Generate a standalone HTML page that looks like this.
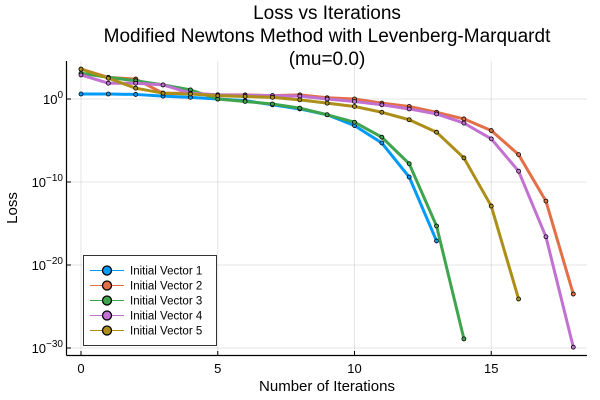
<!DOCTYPE html>
<html><head><meta charset="utf-8"><style>
body{margin:0;background:#fff}
svg{display:block;font-family:"Liberation Sans","DejaVu Sans",sans-serif}
</style></head><body>
<svg id="chart" width="600" height="400" viewBox="0 0 600 400">
<g font-size="19" text-anchor="middle" fill="#000">
<text x="327" y="19">Loss vs Iterations</text>
<text x="327" y="42">Modified Newtons Method with Levenberg-Marquardt</text>
<text x="327" y="65">(mu=0.0)</text>
</g>
<g id="grid"></g>
<g id="series"></g>
<line x1="66.5" y1="61" x2="66.5" y2="355.5" stroke="#000" stroke-width="1.2"/>
<line x1="66.5" y1="355.5" x2="587" y2="355.5" stroke="#000" stroke-width="1.2"/>
<g id="ticks"></g>
<text x="327" y="391" font-size="15" text-anchor="middle">Number of Iterations</text>
<text x="17" y="208" font-size="15" text-anchor="middle" transform="rotate(-90 17 208)">Loss</text>
<g id="legend"></g>
</svg>
<script>
const seriesNames=["Initial Vector 1","Initial Vector 2","Initial Vector 3","Initial Vector 4","Initial Vector 5"];
const seriesColors=["#009AF9","#E26F46","#3EA44E","#C271D2","#AC8E18"];
const s1=[0.6,0.6,0.55,0.35,0.2,0,-0.2,-0.7,-1.2,-1.9,-3.2,-5.3,-9.4,-17.1];
const s2=[3.6,2.6,2.4,0.7,0.7,0.5,0.5,0.4,0.5,0.15,0,-0.5,-0.9,-1.6,-2.4,-3.8,-6.7,-12.3,-23.5];
const s3=[3.1,2.6,2.2,1.7,1.1,0,-0.3,-0.6,-1.1,-1.9,-2.8,-4.6,-7.8,-15.3,-28.9];
const s4=[2.9,1.9,1.9,1.7,0.7,0.5,0.45,0.4,0.35,0,-0.3,-0.7,-1.2,-1.8,-2.9,-4.8,-8.7,-16.6,-29.9];
const s5=[3.6,2.5,1.3,0.7,0.6,0.4,0.3,0.2,-0.1,-0.5,-0.9,-1.6,-2.5,-4,-7.1,-12.9,-24.1];
const xTicks=[0,5,10,15];
const yTicks=[0,-10,-20,-30];
const NS="http://www.w3.org/2000/svg";
function X(v){return 81+v*27.35;}
function Y(l){return 99-l*8.3;}
function mk(t,a,p){const e=document.createElementNS(NS,t);for(const k in a)e.setAttribute(k,a[k]);p.appendChild(e);return e;}
const grid=document.getElementById('grid'),ticks=document.getElementById('ticks');
xTicks.forEach(v=>{
 const g=mk('line',{x1:X(v),x2:X(v),y1:61,y2:355,stroke:'#000','stroke-opacity':0.1},grid);
 
 
 const tk=mk('line',{x1:X(v),x2:X(v),y1:355.5,y2:351},ticks);tk.setAttribute('stroke','#000');
 
 
 const t=mk('text',{x:X(v),y:373,'font-size':13,'text-anchor':'middle'},ticks);t.textContent=v;
 
 
});
yTicks.forEach(v=>{
 const g=mk('line',{x1:67,x2:587,y1:Y(v),y2:Y(v),stroke:'#000','stroke-opacity':0.1},grid);
 
 
 const tk=mk('line',{x1:66.5,x2:71,y1:Y(v),y2:Y(v),stroke:'#000'},ticks);
 
 
 const t=mk('text',{x:63,y:Y(v)+5,'font-size':13,'text-anchor':'end'},ticks);
 
 
 const b=mk('tspan',{},t);b.textContent='10';
 const e=mk('tspan',{dy:-6,'font-size':10},t);e.textContent=String(v).replace('-','\u2212');
});
const series=document.getElementById('series');
[s1,s2,s3,s4,s5].forEach((d,i)=>{
 const g=mk('g',{},series);
 
 
 const pts=d.map((v,k)=>X(k)+','+Y(v)).join(' ');
 const pl=mk('polyline',{points:pts,fill:'none',stroke:seriesColors[i],'stroke-width':3,'stroke-linejoin':'round'},g);
 
 
 d.forEach((v,k)=>{
  const c=mk('circle',{cx:X(k),cy:Y(v),r:2,fill:seriesColors[i],stroke:'#000','stroke-width':0.8},g);
  
  
 });
});
const lg=document.getElementById('legend');
const box=mk('rect',{x:83.5,y:255.5,width:133,height:90,fill:'#fff',stroke:'#333','stroke-width':1},lg);


seriesNames.forEach((n,i)=>{
 const y=270.5+i*15;
 const g=mk('g',{},lg);
 
 
 mk('line',{x1:90,x2:124,y1:y,y2:y,stroke:seriesColors[i],'stroke-width':1},g);
 mk('circle',{cx:107,cy:y,r:4.5,fill:seriesColors[i],stroke:'#000','stroke-width':1.3},g);
 const t=mk('text',{x:130,y:y+4,'font-size':11.5},g);t.textContent=n;
});
</script>
</body></html>
